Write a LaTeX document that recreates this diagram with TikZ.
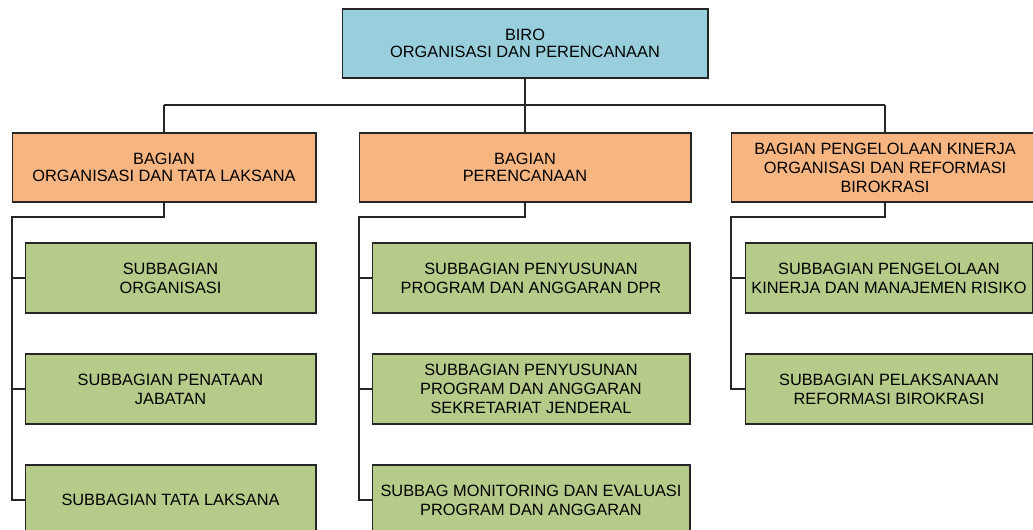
\documentclass[tikz,border=0pt]{standalone}
\usepackage{fontspec}
\setmainfont{Liberation Sans}
\definecolor{biru}{RGB}{153,207,220}
\definecolor{jingga}{RGB}{247,181,130}
\definecolor{hijau}{RGB}{182,202,137}
\tikzset{
  kotak/.style={draw=black!85, line width=0.6pt, inner sep=0pt, align=center,
    font=\fontsize{9.3}{10.8}\selectfont},
  biro/.style={kotak, fill=biru, minimum height=1.38cm},
  bagian/.style={kotak, fill=jingga, minimum height=1.38cm},
  subbag/.style={kotak, fill=hijau, minimum height=1.4cm},
  garis/.style={draw=black!85, line width=0.6pt}
}
\begin{document}
\begin{tikzpicture}[x=0.02cm, y=-0.02cm]

\clip (0,0) rectangle (1033,530);
\fill[white] (0,0) rectangle (1033,530);

\def \ya{167.5};
\def \yb{278};

\node[biro, minimum width=7.32cm, font=\fontsize{9.3}{9.6}\selectfont] (biro) at (525,43.5) {BIRO\\ORGANISASI DAN PERENCANAAN};

\node[bagian, minimum width=6.08cm, font=\fontsize{9.3}{9.6}\selectfont] (bagOrg) at (164,\ya) {BAGIAN\\ORGANISASI DAN TATA LAKSANA};
\node[bagian, minimum width=6.64cm, font=\fontsize{9.3}{9.6}\selectfont] (bagRen) at (525,\ya) {BAGIAN\\PERENCANAAN};
\node[bagian, minimum width=6.16cm] (bagKin) at (885,\ya) {BAGIAN PENGELOLAAN KINERJA\\ORGANISASI DAN REFORMASI\\BIROKRASI};

\node[subbag, minimum width=5.82cm] (subOrg) at (170.5,\yb) {SUBBAGIAN\\ORGANISASI};
\node[subbag, minimum width=5.82cm] (subJab) at (170.5,\yb+111) {SUBBAGIAN PENATAAN\\JABATAN};
\node[subbag, minimum width=5.82cm] (subTL) at (170.5,\yb+222) {SUBBAGIAN TATA LAKSANA};

\node[subbag, minimum width=6.36cm] (subDPR) at (531,\yb) {SUBBAGIAN PENYUSUNAN\\PROGRAM DAN ANGGARAN DPR};
\node[subbag, minimum width=6.36cm] (subSekjen) at (531,\yb+111) {SUBBAGIAN PENYUSUNAN\\PROGRAM DAN ANGGARAN\\SEKRETARIAT JENDERAL};
\node[subbag, minimum width=6.36cm] (subMonev) at (531,\yb+222) {SUBBAG MONITORING DAN EVALUASI\\PROGRAM DAN ANGGARAN};

\node[subbag, minimum width=5.76cm] (subRisiko) at (889,\yb) {SUBBAGIAN PENGELOLAAN\\KINERJA DAN MANAJEMEN RISIKO};
\node[subbag, minimum width=5.76cm] (subRB) at (889,\yb+111) {SUBBAGIAN PELAKSANAAN\\REFORMASI BIROKRASI};

\coordinate (busL) at (164,105);
\coordinate (busR) at (885,105);
\coordinate (kiri) at (12,217);
\coordinate (tengah) at (359,217);
\coordinate (kanan) at (731,217);

\draw[garis] (busL) -- (busR);
\draw[garis] (biro.south) -- (biro.south |- busL);
\draw[garis] (busL) -- (bagOrg.north);
\draw[garis] (biro.south |- busL) -- (bagRen.north);
\draw[garis] (busR) -- (bagKin.north);

\draw[garis] (bagOrg.south) |- (kiri) -- (kiri |- subTL.west) -- (subTL.west);
\draw[garis] (kiri |- subOrg.west) -- (subOrg.west);
\draw[garis] (kiri |- subJab.west) -- (subJab.west);

\draw[garis] (bagRen.south) |- (tengah) -- (tengah |- subMonev.west) -- (subMonev.west);
\draw[garis] (tengah |- subDPR.west) -- (subDPR.west);
\draw[garis] (tengah |- subSekjen.west) -- (subSekjen.west);

\draw[garis] (bagKin.south) |- (kanan) -- (kanan |- subRB.west) -- (subRB.west);
\draw[garis] (kanan |- subRisiko.west) -- (subRisiko.west);

\end{tikzpicture}
\end{document}
